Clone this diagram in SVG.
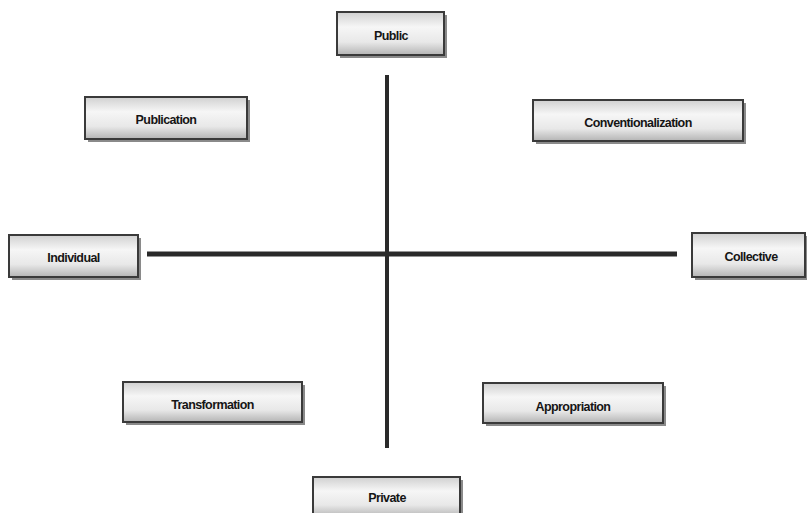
<svg xmlns="http://www.w3.org/2000/svg" width="807" height="513" viewBox="0 0 807 513">
<defs>
<linearGradient id="g" x1="0" y1="0" x2="0" y2="1">
<stop offset="0" stop-color="#d0d0d0"/>
<stop offset="0.35" stop-color="#f6f6f6"/>
<stop offset="0.7" stop-color="#e8e8e8"/>
<stop offset="1" stop-color="#b4b4b4"/>
</linearGradient>
<style>
.sh{fill:#8a8a8a;}
.bx{fill:url(#g);stroke:#3a3a3a;stroke-width:2;}
.t{font-family:"Liberation Sans",Arial,sans-serif;font-weight:bold;font-size:12.5px;fill:#151515;text-anchor:middle;letter-spacing:-0.6px;}
.ax{stroke:#2a2a2a;fill:none;}
</style>
</defs>
<rect width="807" height="513" fill="#ffffff"/>
<g id="connectors">
<line class="ax" x1="387" y1="75" x2="387" y2="448" stroke-width="4"/>
<line class="ax" x1="147" y1="254" x2="677" y2="254" stroke-width="5"/>
</g>
<g id="public">
<rect class="sh" x="340" y="15" width="107" height="43"/>
<rect class="bx" x="337" y="12" width="107" height="43"/>
<text class="t" x="391" y="40">Public</text>
</g>
<g id="publication">
<rect class="sh" x="88" y="100" width="162" height="42"/>
<rect class="bx" x="85" y="97" width="162" height="42"/>
<text class="t" x="166" y="124">Publication</text>
</g>
<g id="conventionalization">
<rect class="sh" x="536" y="103" width="210" height="41"/>
<rect class="bx" x="533" y="100" width="210" height="41"/>
<text class="t" x="638" y="127">Conventionalization</text>
</g>
<g id="individual">
<rect class="sh" x="12" y="238" width="129" height="42"/>
<rect class="bx" x="9" y="235" width="129" height="42"/>
<text class="t" x="73.5" y="262">Individual</text>
</g>
<g id="collective">
<rect class="sh" x="695" y="236" width="113" height="44"/>
<rect class="bx" x="692" y="233" width="113" height="44"/>
<text class="t" x="751" y="261">Collective</text>
</g>
<g id="transformation">
<rect class="sh" x="126" y="385" width="179" height="40"/>
<rect class="bx" x="123" y="382" width="179" height="40"/>
<text class="t" x="212.5" y="409">Transformation</text>
</g>
<g id="appropriation">
<rect class="sh" x="486" y="386" width="180" height="40"/>
<rect class="bx" x="483" y="383" width="180" height="40"/>
<text class="t" x="573" y="411">Appropriation</text>
</g>
<g id="private">
<rect class="sh" x="316" y="480" width="147" height="40"/>
<rect class="bx" x="313" y="477" width="147" height="40"/>
<text class="t" x="387" y="502">Private</text>
</g>
</svg>
